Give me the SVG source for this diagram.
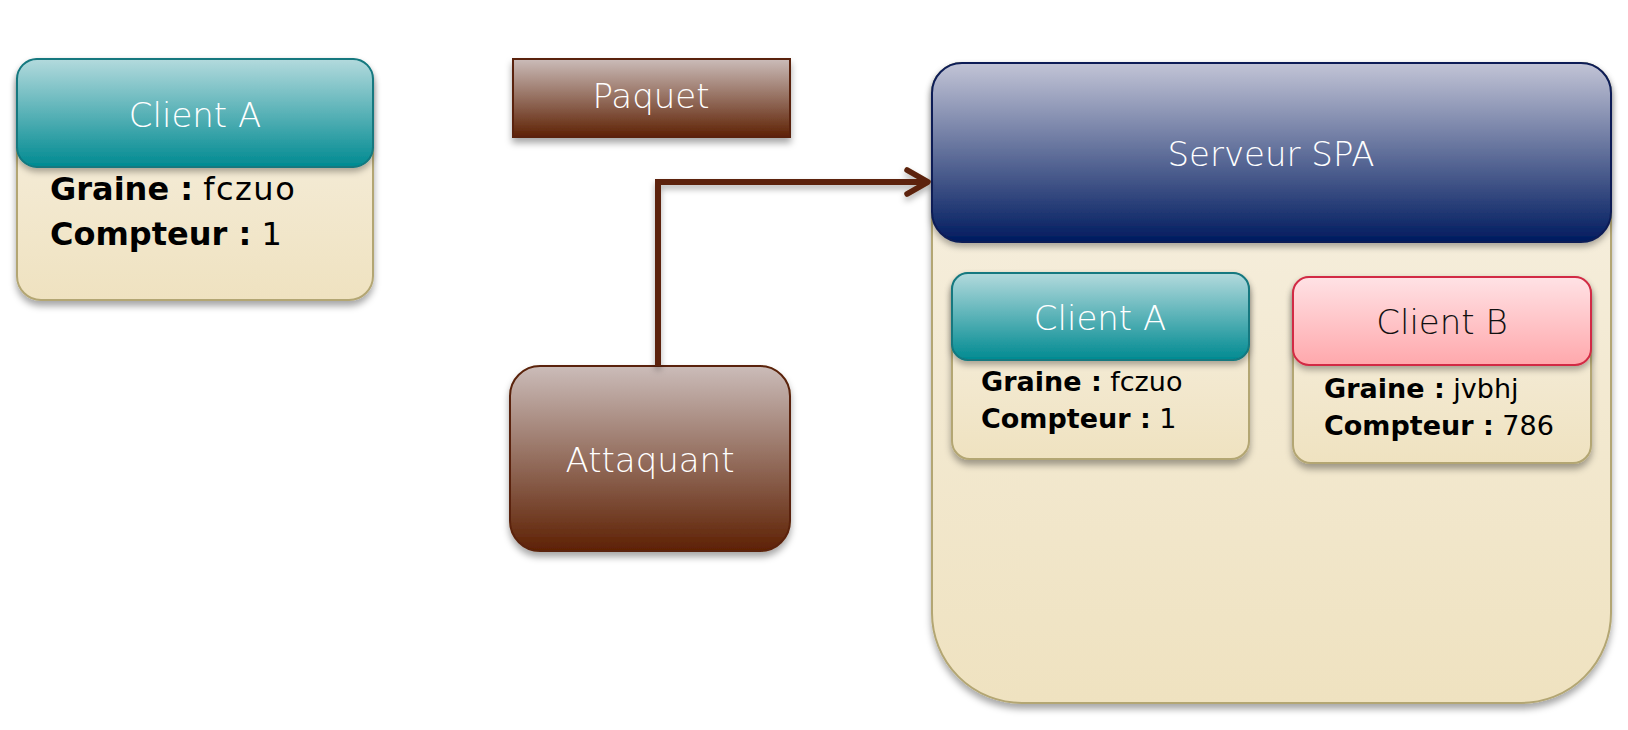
<svg xmlns="http://www.w3.org/2000/svg" width="1628" height="730" viewBox="0 0 1628 730">
<style>
.title{font-family:"DejaVu Sans","Liberation Sans",sans-serif;font-size:34px;font-weight:300;text-anchor:middle;fill:#ffffff}
.dark{fill:#111111}
.body{font-family:"DejaVu Sans","Liberation Sans",sans-serif;font-size:32px;fill:#000000}
.bodys{font-family:"DejaVu Sans","Liberation Sans",sans-serif;font-size:27px;fill:#000000}
.b{font-weight:bold}
.v{letter-spacing:1.5px}
.cream{fill:url(#gCream);stroke:#b3a673;stroke-width:2}
.teal{fill:url(#gTeal);stroke:#12787f;stroke-width:2}
.brown{fill:url(#gBrown);stroke:#5a2208;stroke-width:2}
.navy{fill:url(#gNavy);stroke:#0a1d56;stroke-width:2}
.pink{fill:url(#gPink);stroke:#d22c44;stroke-width:2}
.conn{fill:none;stroke:#5c2309;stroke-width:6;stroke-linejoin:miter}
</style>
<defs>
<linearGradient id="gCream" x1="0" y1="0" x2="0" y2="1"><stop offset="0" stop-color="#f7f1e4"/><stop offset="1" stop-color="#efe2c0"/></linearGradient>
<linearGradient id="gTeal" x1="0" y1="0" x2="0" y2="1"><stop offset="0" stop-color="#b3dadd"/><stop offset="1" stop-color="#008a91"/></linearGradient>
<linearGradient id="gBrown" x1="0" y1="0" x2="0" y2="1"><stop offset="0" stop-color="#cbbcb9"/><stop offset="1" stop-color="#5e2104"/></linearGradient>
<linearGradient id="gNavy" x1="0" y1="0" x2="0" y2="1"><stop offset="0" stop-color="#c2c4d6"/><stop offset="1" stop-color="#001b5f"/></linearGradient>
<linearGradient id="gPink" x1="0" y1="0" x2="0" y2="1"><stop offset="0" stop-color="#ffe2e5"/><stop offset="1" stop-color="#ffa8ac"/></linearGradient>
<filter id="sh" x="-10%" y="-10%" width="120%" height="130%"><feDropShadow dx="0" dy="5" stdDeviation="3.5" flood-color="#000" flood-opacity="0.35"/></filter>
<filter id="sh2" x="-10%" y="-10%" width="120%" height="130%"><feDropShadow dx="0" dy="4" stdDeviation="3" flood-color="#000" flood-opacity="0.3"/></filter>
<marker id="arr" viewBox="0 0 32 32" refX="27" refY="16" markerWidth="32" markerHeight="32" markerUnits="userSpaceOnUse" orient="auto">
<path d="M6,4 L27,16 L6,28" fill="none" stroke="#5c2309" stroke-width="5.5" stroke-linecap="round" stroke-linejoin="round"/>
</marker>
</defs>
<rect width="1628" height="730" fill="#ffffff"/>

<g id="client-a-left">
<rect class="cream" x="17" y="59" width="356" height="241" rx="24" filter="url(#sh)"/>
<rect class="teal" x="17" y="59" width="356" height="108" rx="20" filter="url(#sh2)"/>
<text class="title" x="195" y="127">Client A</text>
<text class="body" x="50" y="200"><tspan class="b">Graine :</tspan> <tspan class="v">fczuo</tspan></text>
<text class="body" x="50" y="245"><tspan class="b">Compteur :</tspan> 1</text>
</g>

<g id="paquet">
<rect class="brown" x="513" y="59" width="277" height="78" filter="url(#sh)"/>
<text class="title" x="651" y="108">Paquet</text>
</g>

<g id="attaquant">
<rect class="brown" x="510" y="366" width="280" height="185" rx="30" filter="url(#sh)"/>
<text class="title" x="650" y="472">Attaquant</text>
</g>

<g id="serveur-spa">
<path class="cream" d="M962,63 H1581 A30,30 0 0 1 1611,93 V613 A90,90 0 0 1 1521,703 H1022 A90,90 0 0 1 932,613 V93 A30,30 0 0 1 962,63 Z" filter="url(#sh)"/>
<rect class="navy" x="932" y="63" width="679" height="179" rx="30" filter="url(#sh2)"/>
<text class="title" x="1271" y="166">Serveur SPA</text>
</g>

<g id="client-a-server">
<rect class="cream" x="952" y="273" width="297" height="186" rx="18" filter="url(#sh)"/>
<rect class="teal" x="952" y="273" width="297" height="87" rx="16" filter="url(#sh2)"/>
<text class="title" x="1100" y="330">Client A</text>
<text class="bodys" x="981" y="391"><tspan class="b">Graine :</tspan> fczuo</text>
<text class="bodys" x="981" y="428"><tspan class="b">Compteur :</tspan> 1</text>
</g>

<g id="client-b-server">
<rect class="cream" x="1293" y="277" width="298" height="186" rx="18" filter="url(#sh)"/>
<rect class="pink" x="1293" y="277" width="298" height="88" rx="16" filter="url(#sh2)"/>
<text class="title dark" x="1442" y="334">Client B</text>
<text class="bodys" x="1324" y="398"><tspan class="b">Graine :</tspan> jvbhj</text>
<text class="bodys" x="1324" y="435"><tspan class="b">Compteur :</tspan> 786</text>
</g>

<g id="connectors">
<path class="conn" d="M658,366 V182 H928" marker-end="url(#arr)" filter="url(#sh2)"/>
</g>
</svg>
